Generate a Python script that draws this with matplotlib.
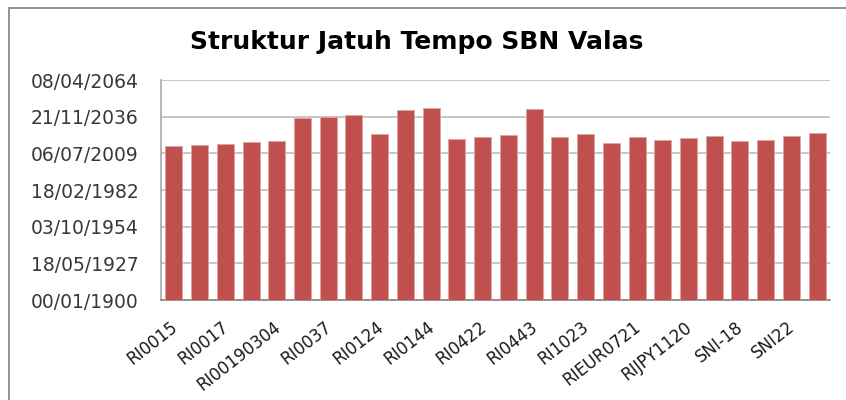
import matplotlib
matplotlib.use("Agg")
import matplotlib.pyplot as plt
import matplotlib.patches as mpatches
import matplotlib.transforms as mtransforms
import numpy as np
import pandas as pd

# SBN valas series and their maturity dates
series = ['RI0015', 'RI0016', 'RI0017', 'RI0018', 'RI00190304', 'RI0035',
          'RI0037', 'RI0038', 'RI0124', 'RI0142', 'RI0144', 'RI0420',
          'RI0422', 'RI0423', 'RI0443', 'RI0521', 'RI1023', 'RIEUR0617',
          'RIEUR0721', 'RIJPY0319', 'RIJPY1120', 'RIJPY1122', 'SNI-18',
          'SNI19', 'SNI22', 'SNI24']
maturity = ['2015-03-28', '2015-12-27', '2016-09-23', '2017-12-22', '2018-09-21',
            '2035-08-24', '2036-11-21', '2037-11-20', '2023-12-13', '2041-08-14',
            '2043-05-13', '2019-12-19', '2021-12-15', '2023-03-15', '2042-11-12',
            '2021-06-17', '2023-12-13', '2017-06-23', '2021-06-17', '2019-03-21',
            '2020-09-17', '2022-06-15', '2018-06-22', '2019-03-21', '2022-06-15',
            '2024-06-12']

# axis in spreadsheet date serials (day 0 = 00/01/1900)
ytick_vals = [0, 10000, 20000, 30000, 40000, 50000, 60000]
ytick_labels = ['00/01/1900', '18/05/1927', '03/10/1954', '18/02/1982',
                '06/07/2009', '21/11/2036', '08/04/2064']

serial = (pd.to_datetime(maturity) - pd.Timestamp('1899-12-30')).days.values
x = np.arange(len(series))

fig = plt.figure(figsize=(8.46, 4.0), dpi=100)
ax = fig.add_axes([161/846, 0.25, 669/846, 0.55])

ax.bar(x, serial, width=0.66, color='#C0504D', edgecolor='#dba3a1', linewidth=0.6, zorder=3)

ax.set_xlim(-0.5, len(series) - 0.5)
ax.set_ylim(0, 60000)
ax.set_yticks(ytick_vals)
ax.set_yticklabels(ytick_labels, fontsize=13.5, color='#383838')
ax.tick_params(axis='y', length=0, pad=16)
ax.grid(axis='y', color='#c3c3c3', linewidth=1.3, zorder=0)

ax.set_xticks(x[::2])
ax.set_xticklabels(series[::2], rotation=38, ha='right', va='top',
                   rotation_mode='anchor', fontsize=12, color='#1a1a1a')
ax.tick_params(axis='x', length=0, pad=13)
shift = mtransforms.ScaledTranslation(-4/100, 0, fig.dpi_scale_trans)
for lbl in ax.get_xticklabels():
    lbl.set_transform(lbl.get_transform() + shift)

for side in ['top', 'right']:
    ax.spines[side].set_visible(False)
ax.spines['left'].set_color('#b0b0b0')
ax.spines['left'].set_linewidth(1.3)
ax.spines['bottom'].set_color('#8c8c8c')
ax.spines['bottom'].set_linewidth(1.3)

fig.text(417/846, 1 - 42/400, 'Struktur Jatuh Tempo SBN Valas', ha='center', va='center',
         fontsize=18, fontweight='bold', color='black')

# chart area frame
fig.patches.append(mpatches.Rectangle((9/846, -0.05), 1.0, 1 - 8/400 + 0.05,
                                      transform=fig.transFigure, fill=False,
                                      edgecolor='#8a8a8a', linewidth=1.3))

fig.savefig('out.png', dpi=100)
